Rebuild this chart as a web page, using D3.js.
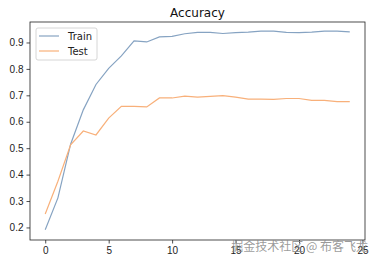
<!DOCTYPE html>
<html lang="en">
<head>
    <meta charset="UTF-8">
    <title>Accuracy</title>
    <style>
        body, html {
            margin: 0;
            padding: 0;
            background: #fff;
            font-family: "DejaVu Sans", sans-serif;
        }
        .tick text { font-size: 10px; fill: #222; }
    </style>
    <script src="https://d3js.org/d3.v7.min.js"></script>
</head>
<body>
    <div id="chart"></div>
    <script>
        const epochs = d3.range(25);
        const trainAcc = [0.191, 0.312, 0.515, 0.645, 0.741, 0.802, 0.849, 0.906, 0.902, 0.921,
                          0.923, 0.933, 0.938, 0.938, 0.934, 0.937, 0.939, 0.943, 0.943, 0.938,
                          0.937, 0.939, 0.943, 0.943, 0.940];
        const testAcc = [0.251, 0.375, 0.513, 0.565, 0.550, 0.614, 0.658, 0.658, 0.656, 0.690,
                         0.690, 0.697, 0.693, 0.696, 0.699, 0.693, 0.686, 0.686, 0.685, 0.688,
                         0.688, 0.681, 0.681, 0.676, 0.676];
        const xTicks = [0, 5, 10, 15, 20, 25];
        const yTicks = [0.2, 0.3, 0.4, 0.5, 0.6, 0.7, 0.8, 0.9];
        const series = [
            { name: "Train", values: trainAcc, color: "#86a3c2" },
            { name: "Test", values: testAcc, color: "#f8b07a" }
        ];

        const W = 376, H = 264;
        const margin = { top: 22, right: 11, bottom: 24, left: 30 };
        const width = W - margin.left - margin.right,
              height = H - margin.top - margin.bottom;

        const svg = d3.select("#chart").append("svg")
            .attr("width", W)
            .attr("height", H);

        const g = svg.append("g")
            .attr("transform", `translate(${margin.left},${margin.top})`);

        const x = d3.scaleLinear().domain([-1.2, 25.2]).range([0, width]);
        const y = d3.scaleLinear().domain([0.1525, 0.9775]).range([height, 0]);

        // axes
        const xAxis = g.append("g")
            .attr("transform", `translate(0,${height})`)
            .call(d3.axisBottom(x).tickValues(xTicks).tickSize(3.5).tickPadding(3).tickFormat(d3.format("d")));
        const yAxis = g.append("g")
            .call(d3.axisLeft(y).tickValues(yTicks).tickSize(3.5).tickPadding(3).tickFormat(d3.format(".1f")));
        [xAxis, yAxis].forEach(a => {
            a.select(".domain").remove();
            a.selectAll(".tick line").attr("stroke", "#222").attr("stroke-width", 0.8);
        });

        const line = d3.line()
            .x((d, i) => x(epochs[i]))
            .y(d => y(d));

        series.forEach(s => {
            g.append("path")
                .datum(s.values)
                .attr("fill", "none")
                .attr("stroke", s.color)
                .attr("stroke-width", 1.2)
                .attr("d", line);
        });

        // frame
        g.append("rect")
            .attr("width", width)
            .attr("height", height)
            .attr("fill", "none")
            .attr("stroke", "#222")
            .attr("stroke-width", 0.8);

        // title
        svg.append("text")
            .attr("x", margin.left + width / 2)
            .attr("y", 17)
            .attr("text-anchor", "middle")
            .style("font-size", "12px")
            .attr("fill", "#111")
            .text("Accuracy");

        // legend
        const legend = g.append("g").attr("transform", "translate(6,6)");
        legend.append("rect")
            .attr("width", 61)
            .attr("height", 32)
            .attr("rx", 2)
            .attr("fill", "#fff")
            .attr("fill-opacity", 0.8)
            .attr("stroke", "#ccc")
            .attr("stroke-width", 0.8);
        series.forEach((s, i) => {
            const yy = 8 + i * 15;
            legend.append("line")
                .attr("x1", 3).attr("x2", 23)
                .attr("y1", yy).attr("y2", yy)
                .attr("stroke", s.color)
                .attr("stroke-width", 1.2);
            legend.append("text")
                .attr("x", 32)
                .attr("y", yy + 3.5)
                .style("font-size", "10px")
                .attr("fill", "#222")
                .text(s.name);
        });

        // watermark (overlaps the x tick labels, as in the source image)
        svg.append("text")
            .attr("x", 368)
            .attr("y", 251)
            .attr("text-anchor", "end")
            .style("font-family", "'Noto Sans CJK SC', sans-serif")
            .style("font-size", "12px")
            .attr("fill", "#888")
            .attr("fill-opacity", 0.85)
            .text("掘金技术社区 @ 布客飞龙");
    </script>
</body>
</html>
